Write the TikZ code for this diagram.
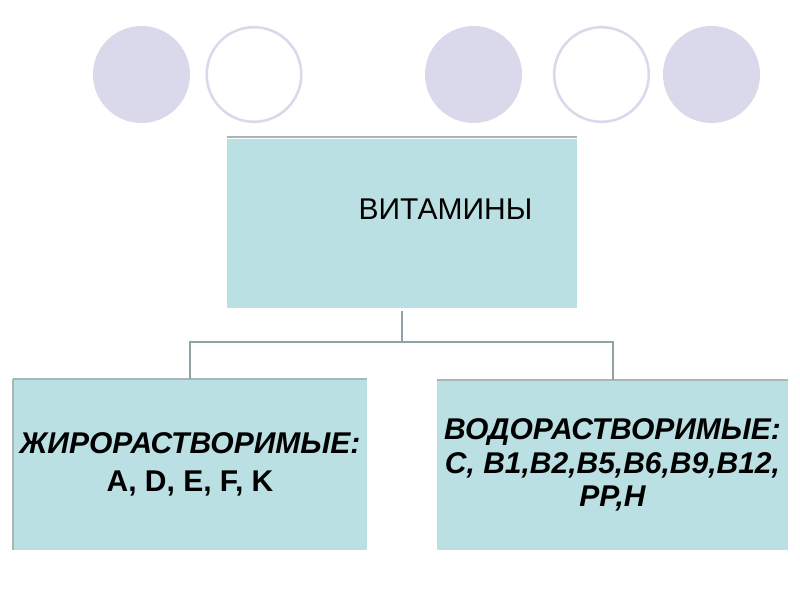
\documentclass[tikz,border=0pt]{standalone}
\usepackage{fontspec}
\setmainfont{Liberation Sans}
\definecolor{lav}{HTML}{DAD9EC}
\definecolor{boxfill}{HTML}{BBE0E3}
\definecolor{conn}{HTML}{8FA3A6}
\definecolor{edge}{HTML}{A7B6B8}
\tikzset{
  dotfill/.style={fill=lav},
  dotopen/.style={draw=lav, line width=1.9pt, fill=white},
  boxnode/.style={fill=boxfill, inner sep=0pt, align=center, font=\fontsize{22.5}{25}\selectfont},
  connline/.style={draw=conn, line width=1.5pt},
  edgeline/.style={draw=edge, line width=1.4pt}
}
\begin{document}
\begin{tikzpicture}[x=0.75pt,y=-0.75pt]
\useasboundingbox[fill=white] (0,0) rectangle (800,600);
% circles
\fill[dotfill] (141.5,74.5) circle[radius=48.5];
\draw[dotopen] (254,74.5) circle[radius=47.3];
\fill[dotfill] (473.5,74.5) circle[radius=48.5];
\draw[dotopen] (601.5,74.5) circle[radius=47.3];
\fill[dotfill] (711.5,74.5) circle[radius=48.5];
% boxes
\node[boxnode, minimum width=262.5pt, minimum height=126.75pt] (top) at (402,223.5) {};
\node[font=\fontsize{22.5}{25}\selectfont, inner sep=0pt] (vit) at (445.5,209) {ВИТАМИНЫ};
\node[boxnode, minimum width=265.5pt, minimum height=128.25pt] (left) at (190,464.5)
  {\bfseries\itshape ЖИРОРАСТВОРИМЫЕ:\\[3pt] \bfseries A, D, E, F, K};
\node[boxnode, minimum width=263.25pt, minimum height=127.5pt] (right) at (612.5,465)
  {\bfseries\itshape ВОДОРАСТВОРИМЫЕ:\\ \bfseries\itshape C, B1,B2,B5,B6,B9,B12,\\ \bfseries\itshape PP,H};
% edge lines
\draw[edgeline] ([yshift=1.5pt]top.north west) -- ([yshift=1.5pt]top.north east);
\draw[edgeline] (left.north west) -- (left.north east);
\draw[edgeline] (left.north west) -- (left.south west);
\draw[edgeline] (right.north west) -- (right.north east);
% connectors
\coordinate (j) at ([yshift=-25.5pt]top.south);
\draw[connline] ([yshift=-2pt]top.south) -- (j);
\draw[connline] (j) -| (left.north);
\draw[connline] (j) -| (right.north);
\end{tikzpicture}
\end{document}
